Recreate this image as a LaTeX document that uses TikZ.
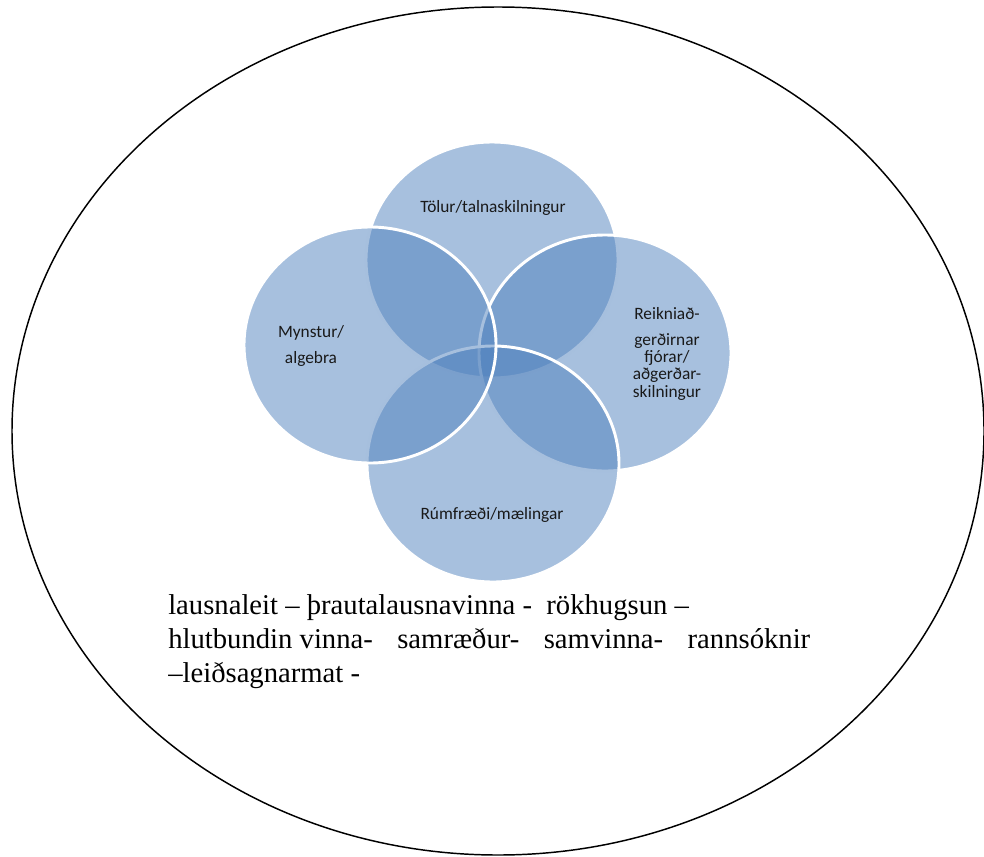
\documentclass[tikz,border=0pt]{standalone}
\usepackage{fontspec}
\usepackage{tikz}
\usetikzlibrary{shapes.geometric}
\setmainfont{Liberation Serif}
\newfontfamily\labelfont{Carlito}
\definecolor{vennblue}{RGB}{79,129,189}

\begin{document}
\begin{tikzpicture}[x=0.75pt,y=0.75pt,
    venncircle/.style={ellipse, inner sep=0pt, minimum width=189pt, minimum height=177pt,
      fill=vennblue, fill opacity=.5, draw=white, line width=2.2pt},
    vennlabel/.style={font=\labelfont\fontsize{13}{13}\selectfont, align=center, text=black!90},
    bodyline/.style={anchor=base west, inner sep=0pt, font=\fontsize{21.5}{25.5}\selectfont}]
    \useasboundingbox (0,0) rectangle (984,-856);
    \draw[line width=1.1pt] (498,-431) ellipse [x radius=486, y radius=424];

    \node[venncircle] (tolur)   at (492,-260) {};
    \node[venncircle] (reikni)  at (605,-353) {};
    \node[venncircle] (rumfr)   at (493,-464) {};
    \node[venncircle] (mynstur) at (370,-345) {};

    \node[vennlabel] (tolurtxt)   at (493,-208) {Tölur/talnaskilningur};
    \node[vennlabel] (reiknitxt)  at (667,-354) {Reikniað-\\[6pt]gerðirnar\\fjórar/\\aðgerðar-\\skilningur};
    \node[vennlabel] (rumfrtxt)   at (492,-515) {Rúmfræði/mælingar};
    \node[vennlabel] (mynsturtxt) at (311,-346) {Mynstur/\\[6pt]algebra};

    \node[bodyline] (line1) at (168,-614) {lausnaleit -- þrautalausnavinna -\ \ rökhugsun --};
    \node[bodyline] (line2) at (168,-648) {\makebox[481.5pt]{hlutbundin vinna-\hfill samræður-\hfill samvinna-\hfill rannsóknir}};
    \node[bodyline] (line3) at (168,-682) {--leiðsagnarmat -};
  \end{tikzpicture}
\end{document}
